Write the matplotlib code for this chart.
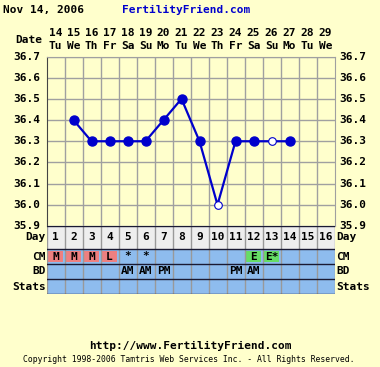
import numpy as np
import matplotlib.pyplot as plt
from matplotlib.patches import Rectangle

# chart data
days = list(range(1, 17))
dates = ["14", "15", "16", "17", "18", "19", "20", "21", "22", "23", "24", "25", "26", "27", "28", "29"]
weekdays = ["Tu", "We", "Th", "Fr", "Sa", "Su", "Mo", "Tu", "We", "Th", "Fr", "Sa", "Su", "Mo", "Tu", "We"]
temp_days = [2, 3, 4, 5, 6, 7, 8, 9, 10, 11, 12, 13, 14]
temps = [36.4, 36.3, 36.3, 36.3, 36.3, 36.4, 36.5, 36.3, 36.0, 36.3, 36.3, 36.3, 36.3]
open_days = [10, 13]
yticks = [35.9, 36.0, 36.1, 36.2, 36.3, 36.4, 36.5, 36.6, 36.7]
cm = ["M", "M", "M", "L", "*", "*", "", "", "", "", "", "E", "E*", "", "", ""]
bd = ["", "", "", "", "AM", "AM", "PM", "", "", "", "PM", "AM", "", "", "", ""]

BG = "#ffffcc"
BLUE = "#0000cc"
ROW = "#8ebcee"
CM_COL = {"M": "#ee8080", "L": "#ee8080", "E": "#66dd66", "E*": "#66dd66"}

W, H = 380, 367
fig = plt.figure(figsize=(W / 100, H / 100), dpi=100, facecolor=BG)
mono = dict(family="DejaVu Sans Mono", weight="bold", fontsize=8)

def px(x0, y0, x1, y1):
    return [x0 / W, 1 - y1 / H, (x1 - x0) / W, (y1 - y0) / H]

# temperature chart
ax = fig.add_axes(px(46.5, 56.5, 334.5, 226))
ax.set_facecolor(BG)
ax.set_xlim(0.5, 16.5)
ax.set_ylim(35.9, 36.7)
ax.set_xticks(np.arange(1.5, 16, 1))
ax.set_yticks(yticks)
ax.grid(True, color="#a0a0a0", linewidth=1)
ax.tick_params(length=0, labelbottom=False, labelleft=False)
for s in ax.spines.values():
    s.set_color("#a0a0a0")
ax.spines["left"].set_color("#444444")
ax.plot(temp_days, temps, color=BLUE, linewidth=1.6, zorder=3)
filled = [(d, t) for d, t in zip(temp_days, temps) if d not in open_days]
hollow = [(d, t) for d, t in zip(temp_days, temps) if d in open_days]
ax.plot([d for d, t in filled], [t for d, t in filled], "o", color=BLUE, markersize=6.5, zorder=4)
ax.plot([d for d, t in hollow], [t for d, t in hollow], "o", markerfacecolor="white",
        markeredgecolor=BLUE, markersize=5.5, markeredgewidth=0.8, zorder=4)
for y in yticks:
    ax.text(-0.02, y, f"{y:.1f}", transform=ax.get_yaxis_transform(), ha="right", va="center", **mono)
    ax.text(1.015, y, f"{y:.1f}", transform=ax.get_yaxis_transform(), ha="left", va="center", **mono)

# header dates
for d, dt, wd in zip(days, dates, weekdays):
    ax.text(d, 1.14, dt, transform=ax.get_xaxis_transform(), ha="center", va="center", **mono)
    ax.text(d, 1.06, wd, transform=ax.get_xaxis_transform(), ha="center", va="center", **mono)
ax.text(-0.015, 1.1, "Date", transform=ax.transAxes, ha="right", va="center", **mono)

# table below
edges = [0, 23, 38, 53, 68]
tb = fig.add_axes(px(46.5, 226, 334.5, 294))
tb.set_xlim(0.5, 16.5)
tb.set_ylim(68, 0)
tb.axis("off")
tb.add_patch(Rectangle((0.5, 0), 16, 23, facecolor="#eeeeee", edgecolor="none"))
tb.add_patch(Rectangle((0.5, 23), 16, 45, facecolor=ROW, edgecolor="none"))
for d in days:
    tb.text(d, 11.5, str(d), ha="center", va="center", **mono)
    c = cm[d - 1]
    if c in CM_COL:
        tb.add_patch(Rectangle((d - 0.42, 25), 0.84, 11, facecolor=CM_COL[c], edgecolor="none"))
    if c:
        tb.text(d, 30.5, c, ha="center", va="center", **mono)
    if bd[d - 1]:
        tb.text(d, 45.5, bd[d - 1], ha="center", va="center", **mono)
for x in np.arange(0.5, 17, 1):
    tb.plot([x, x], [0, 68], color="#999999", linewidth=1)
for y in edges:
    tb.plot([0.5, 16.5], [y, y], color="#1a1a33", linewidth=1)
for lab, y in zip(["Day", "CM", "BD", "Stats"], [11.5, 30.5, 45.5, 60.5]):
    tb.text(0.45, y, lab, ha="right", va="center", **mono)
    tb.text(16.6, y, lab, ha="left", va="center", **mono)

# titles
fig.text(3 / W, 1 - 10 / H, "Nov 14, 2006", ha="left", va="center", **mono)
fig.text(122 / W, 1 - 10 / H, "FertilityFriend.com", ha="left", va="center", color=BLUE, **mono)
fig.text(190 / W, 1 - 346 / H, "http://www.FertilityFriend.com", ha="center", va="center", **mono)
fig.text(189 / W, 1 - 360 / H, "Copyright 1998-2006 Tamtris Web Services Inc. - All Rights Reserved.",
         ha="center", va="center", family="DejaVu Sans Mono", fontsize=5.9)

fig.savefig("out.png", dpi=100, facecolor=BG)
